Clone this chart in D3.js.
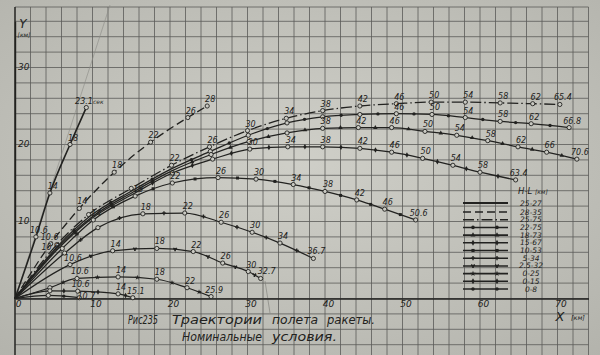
<!DOCTYPE html>
<html>
<head>
<meta charset="utf-8">
<script src="https://cdn.jsdelivr.net/npm/d3@7"></script>
<style>
body { margin: 0; background: #c6c6bf; }
svg { display: block; font-family: "DejaVu Sans", sans-serif; }
</style>
</head>
<body>
<div id="chart"></div>
<script>
// tick labels
const xTicks = [0, 10, 20, 30, 40, 50, 60, 70];
const yTicks = [10, 20, 30];
// legend  H-L [км]
const legendHL = ["25-27", "28-35", "25-75", "22-75", "18-73", "15-67", "10-53", "5-34", "2.5-32", "0-25", "0-15", "0-8"];

// trajectories: [time label, X km, Y km]   "" = circle w/o label, null = no circle
const traj1 = [[null,0,0],["10.6",2.7,8.0],["14",4.5,13.7],["18",7.1,20.0],["23.1",9.2,24.8]];
const traj2 = [[null,0,0],["10.6",4.6,7.1],["14",8.3,11.7],["18",12.8,16.4],["22",17.5,20.3],["26",22.3,23.5],["28",24.8,25.0]];
const traj3 = [[null,0,0],["",5.4,7.0],["",9.5,10.9],["",15.0,14.3],["22",20.2,17.3],["26",25.1,19.7],["30",30.0,21.8],["34",35.0,23.4],["38",39.7,24.4],["42",44.5,25.0],["46",49.2,25.3],["50",53.7,25.5],["54",58.1,25.5],["58",62.6,25.4],["62",66.8,25.3],["65.4",70.3,25.2]];
const traj4 = [[null,0,0],[null,5.6,6.9],[null,9.7,10.7],[null,15.1,14.0],[null,20.3,16.9],["",25.2,19.1],["",30.1,21.2],["",35.1,22.8],["",39.7,23.6],["",44.5,23.9],["46",49.2,24.0],["50",53.8,23.9],["54",58.1,23.5],["58",62.6,23.0],["62",66.6,22.7],["66.8",71.5,22.2]];
const traj5 = [[null,0,0],[null,5.7,6.8],[null,9.8,10.5],[null,15.2,13.8],[null,20.3,16.6],["",25.3,18.7],["",30.2,20.4],["",35.1,21.5],["38",39.7,22.1],["42",44.3,22.2],["46",48.6,22.2],["50",52.9,21.7],["54",57.0,21.2],["58",61.0,20.5],["62",64.9,19.7],["66",68.6,19.0],["70.6",72.5,18.1]];
const traj6 = [[null,0,0],[null,5.8,6.7],[null,9.9,10.4],[null,15.3,13.6],["",20.3,16.3],["",25.5,18.1],["30",30.3,19.4],["34",35.2,19.7],["38",39.7,19.7],["42",44.5,19.5],["46",48.6,19.0],["50",52.6,18.2],["54",56.5,17.3],["58",60.0,16.4],["63.4",64.6,15.4]];
const traj7 = [[null,0,0],["10.6",6.1,6.5],["14",10.1,10.2],["18",15.5,13.3],["22",20.3,15.0],["26",26.2,15.7],["30",31.1,15.5],["34",35.9,14.8],["38",40.0,13.9],["42",44.1,12.8],["46",47.7,11.6],["50.6",51.7,10.2]];
const traj8 = [[null,0,0],["",6.4,5.9],["",10.7,9.2],["18",16.5,11.0],["22",21.9,11.1],["26",26.6,9.9],["30",30.6,8.6],["34",34.2,7.2],["36.7",38.5,5.2]];
const traj9 = [[null,0,0],["10.6",7.1,4.4],["14",12.6,6.2],["18",18.3,6.5],["22",23.0,6.1],["26",26.8,4.6],["30",30.1,3.5],["32.7",31.7,2.6]];
const traj10 = [[null,0,0],["",4.5,1.4],["10.6",8.0,2.6],["14",13.3,2.8],["18",18.3,2.5],["22",22.2,1.4],["25.9",25.3,0.25]];
const traj11 = [[null,0,0],["",4.5,1.0],["10.6",8.1,0.95],["14",13.3,0.6],["15.1",15.2,0.1]];
const traj12 = [[null,0,0],["",4.3,0.4],["10.7",8.3,0.1]];

const trajs = [traj1, traj2, traj3, traj4, traj5, traj6, traj7, traj8, traj9, traj10, traj11, traj12];

const W = 600, H = 355;
const ink = "#222220";
const paper = "#c9c9c2";

// line look of every trajectory / legend row
const lineWidth = [1.6, 1.3, 1.3, 1.25, 1.25, 1.25, 1.25, 1.25, 1.25, 1.25, 1.25, 1.25];
const lineDash = [null, "8,4", "11,3,1.5,3", null, null, null, null, null, null, null, null, null];
const markSym = [null, null, null, d3.symbolCircle, d3.symbolTriangle, d3.symbolDiamond, d3.symbolSquare,
                 d3.symbolCross, d3.symbolWye, d3.symbolStar, d3.symbolDiamond, d3.symbolCircle];

const svg = d3.select("#chart").append("svg").attr("width", W).attr("height", H);

// scanned paper
const grad = svg.append("defs").append("radialGradient").attr("id", "paper")
    .attr("cx", "50%").attr("cy", "45%").attr("r", "75%");
grad.append("stop").attr("offset", "0%").attr("stop-color", "#cfcfc8");
grad.append("stop").attr("offset", "100%").attr("stop-color", "#b3b3ac");
svg.append("rect").attr("width", W).attr("height", H).attr("fill", "url(#paper)");

const x = d3.scaleLinear().domain([0, 74]).range([15, 588.5]);
const y = d3.scaleLinear().domain([0, 36]).range([298.5, 21.3]);

// 2 km grid
const grid = svg.append("g").attr("stroke", "#5b5b58").attr("stroke-width", 0.8);
grid.selectAll("line.v").data(d3.range(0, 75, 2)).join("line").attr("class", "v")
    .attr("x1", d => x(d)).attr("x2", d => x(d)).attr("y1", 7).attr("y2", H);
grid.selectAll("line.h").data(d3.range(-6, 37, 2)).join("line").attr("class", "h")
    .attr("x1", x(0)).attr("x2", x(74)).attr("y1", d => y(d)).attr("y2", d => y(d));
grid.append("line").attr("x1", x(0)).attr("x2", x(74)).attr("y1", 7).attr("y2", 7);

// faint construction lines
svg.append("line").attr("x1", x(0)).attr("y1", y(0)).attr("x2", 110).attr("y2", 5)
    .attr("stroke", "#8c8c87").attr("stroke-width", 0.6);
svg.append("line").attr("x1", 265).attr("y1", 281).attr("x2", 270).attr("y2", 313)
    .attr("stroke", "#7a7a76").attr("stroke-width", 0.6);

// axes
const gx = svg.append("g").attr("transform", `translate(0,${y(0)})`)
    .call(d3.axisBottom(x).tickValues(xTicks).tickSize(0).tickPadding(2).tickFormat(d3.format("d")))
    .attr("font-family", "DejaVu Sans").attr("font-size", 9);
gx.select(".domain").attr("stroke", ink).attr("stroke-width", 1.7);
gx.selectAll("text").attr("dx", 3).attr("font-style", "italic").attr("fill", ink);

const gy = svg.append("g").attr("transform", `translate(${x(0)},0)`)
    .call(d3.axisRight(y).tickValues(yTicks).tickSize(0).tickPadding(3))
    .attr("font-family", "DejaVu Sans").attr("font-size", 9);
gy.select(".domain").attr("stroke", ink).attr("stroke-width", 1.4);
gy.selectAll("text").attr("font-style", "italic").attr("fill", ink).attr("dy", "0.2em");
svg.append("line").attr("x1", x(0)).attr("x2", x(0)).attr("y1", 7).attr("y2", H)
    .attr("stroke", ink).attr("stroke-width", 1.3);

// axis titles
svg.append("text").attr("x", 23).attr("y", 28).attr("text-anchor", "middle")
    .attr("font-size", 12).attr("font-style", "italic").attr("fill", ink).text("Y");
svg.append("text").attr("x", 24).attr("y", 37).attr("text-anchor", "middle")
    .attr("font-size", 6).attr("font-style", "italic").attr("fill", ink).text("[км]");
svg.append("text").attr("x", 560).attr("y", 321).attr("text-anchor", "middle")
    .attr("font-size", 13).attr("font-style", "italic").attr("fill", ink).text("X");
svg.append("text").attr("x", 571).attr("y", 320).attr("text-anchor", "start")
    .attr("font-size", 6.5).attr("font-style", "italic").attr("fill", ink).text("[км]");

// trajectories
const line = d3.line().x(d => x(d[1])).y(d => y(d[2])).curve(d3.curveMonotoneX);
const curves = svg.append("g");

trajs.forEach((pts, i) => {
    const g = curves.append("g");
    const path = g.append("path").attr("d", line(pts)).attr("fill", "none")
        .attr("stroke", ink).attr("stroke-width", lineWidth[i])
        .attr("stroke-dasharray", lineDash[i]);

    // small identifying marks between the timed points
    if (markSym[i]) {
        const node = path.node();
        const L = node.getTotalLength();
        const samples = d3.range(401).map(k => {
            const p = node.getPointAtLength(L * k / 400);
            return {l: L * k / 400, x: p.x, y: p.y};
        });
        const ls = pts.map(d => d3.least(samples, s => (s.x - x(d[1])) ** 2 + (s.y - y(d[2])) ** 2).l);
        const mids = [];
        for (let k = 1; k < ls.length - 1; k++) mids.push(node.getPointAtLength((ls[k] + ls[k + 1]) / 2));
        g.selectAll("path.mk").data(mids).join("path").attr("class", "mk")
            .attr("transform", p => `translate(${p.x},${p.y})`)
            .attr("d", d3.symbol(markSym[i], 9)).attr("fill", ink);
    }

    const timed = pts.filter(d => d[0] !== null);
    g.selectAll("circle").data(timed).join("circle")
        .attr("cx", d => x(d[1])).attr("cy", d => y(d[2])).attr("r", 2.1)
        .attr("fill", paper).attr("stroke", ink).attr("stroke-width", 0.9);

    const lab = g.selectAll("text").data(timed.filter(d => d[0] !== "")).join("text")
        .attr("x", d => x(d[1]) + 3).attr("y", d => y(d[2]) - 4)
        .attr("text-anchor", "middle").attr("font-size", 8).attr("font-style", "italic")
        .attr("fill", ink).text(d => d[0]);
    if (i === 0) lab.filter((d, k, n) => k === n.length - 1).append("tspan").attr("font-size", 6).text("сек");
    if (i === 1) lab.filter((d, k) => k === 0).attr("x", d => x(d[1]) - 1);
    if (i === 6) lab.filter((d, k) => k === 0).attr("text-anchor", "end")
        .attr("x", d => x(d[1]) - 3).attr("y", d => y(d[2]) + 2);
    if (i === 11) lab.attr("x", d => x(d[1]) + 7).attr("y", d => y(d[2]) + 1);
    if (i === 8) lab.filter((d, k, n) => k === n.length - 1).attr("x", d => x(d[1]) + 6);
});

// legend
const legY = i => i === 0 ? 203 : 212 + (i - 1) * 7.7;
const leg = svg.append("g");
leg.append("text").attr("x", 518).attr("y", 194).attr("font-size", 8.5).attr("font-style", "italic")
    .attr("fill", ink).text("H-L ").append("tspan").attr("font-size", 6).text("[км]");
legendHL.forEach((t, i) => {
    leg.append("line").attr("x1", 463).attr("x2", 508).attr("y1", legY(i)).attr("y2", legY(i))
        .attr("stroke", ink).attr("stroke-width", lineWidth[i] + 0.3).attr("stroke-dasharray", lineDash[i]);
    if (markSym[i]) {
        leg.selectAll(null).data([473, 497]).join("path")
            .attr("transform", d => `translate(${d},${legY(i)})`)
            .attr("d", d3.symbol(markSym[i], 10)).attr("fill", ink);
    }
    leg.append("text").attr("x", 531).attr("y", legY(i) + 2.5).attr("text-anchor", "middle")
        .attr("font-size", 7.5).attr("font-style", "italic").attr("fill", ink).text(t);
});

// caption
const cap = svg.append("g").attr("font-size", 12).attr("font-style", "italic").attr("fill", ink);
[["Рис235", 128, 324, 30], ["Траектории", 172, 324, 90], ["полета", 272, 324, 46], ["ракеты.", 327, 324, 48],
 ["Номинальные", 182, 341, 80], ["условия.", 272, 341, 65]].forEach(w => {
    cap.append("text").attr("x", w[1]).attr("y", w[2]).attr("textLength", w[3])
        .attr("lengthAdjust", "spacingAndGlyphs").text(w[0]);
});
</script>
</body>
</html>
